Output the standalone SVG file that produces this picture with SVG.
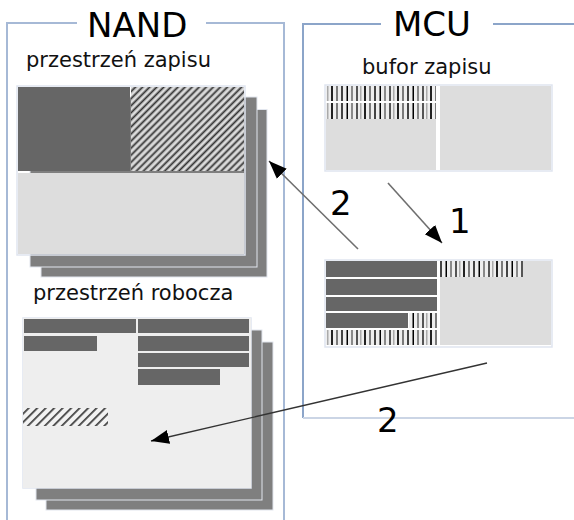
<svg xmlns="http://www.w3.org/2000/svg" width="574" height="520" viewBox="0 0 574 520">
  <style>
    .title { font-family: "DejaVu Sans", sans-serif; font-size: 34px; fill: #000; }
    .label { font-family: "DejaVu Sans", sans-serif; font-size: 21px; fill: #111; }
    .num { font-family: "DejaVu Sans", sans-serif; font-size: 34px; fill: #000; }
    .frame { fill: none; stroke: #a6b9d6; stroke-width: 2; }
    .frame-dark { fill: none; stroke: #8ca5c9; stroke-width: 2; }
    .frame-light { fill: none; stroke: #cbd5e5; stroke-width: 2; }
    .layer { fill: #7f7f7f; stroke: #e2e6ee; stroke-width: 1; }
    .dark { fill: #666666; }
    .light { fill: #dddddd; }
    .pale { fill: #eeeeee; }
    .edge { fill: none; stroke: #dfe5ef; stroke-width: 1.5; }
    .conn { fill: none; stroke: #6f6f6f; stroke-width: 1.6; }
    .conn-dark { fill: none; stroke: #333333; stroke-width: 1.4; }
  </style>
  <defs>
    <marker id="arrow" markerUnits="userSpaceOnUse" markerWidth="19" markerHeight="16" refX="18" refY="8" orient="auto">
      <path d="M0,1 L18,8 L0,15 z" fill="#000"/>
    </marker>
    <!-- diagonal hatch on grey -->
    <pattern id="hatch" patternUnits="userSpaceOnUse" width="5" height="5" patternTransform="rotate(45)">
      <rect width="5" height="5" fill="#dcdcdc"/>
      <rect x="1.5" width="1.8" height="5" fill="#333"/>
    </pattern>
    <pattern id="hatch-pale" patternUnits="userSpaceOnUse" width="6" height="6" patternTransform="rotate(45)">
      <rect width="6" height="6" fill="#f2f2f2"/>
      <rect x="2" width="1.7" height="6" fill="#3a3a3a"/>
    </pattern>
    <!-- data stripes -->
    <pattern id="bars" patternUnits="userSpaceOnUse" width="33" height="16">
      <rect width="33" height="16" fill="#eeeeee"/>
      <rect x="1" width="2" height="16" fill="#222"/>
      <rect x="6" width="2" height="16" fill="#7a7a7a"/>
      <rect x="11" width="2" height="16" fill="#444"/>
      <rect x="16.5" width="1.5" height="16" fill="#000"/>
      <rect x="21" width="2" height="16" fill="#8a8a8a"/>
      <rect x="26" width="2" height="16" fill="#555"/>
      <rect x="30" width="1.5" height="16" fill="#aaaaaa"/>
    </pattern>
  </defs>

  <!-- NAND frame -->
  <g id="nand">
    <path class="frame" d="M7,520 V23 H77 M206,23 H284 V520"/>
    <text class="title" x="87" y="37">NAND</text>
  </g>

  <!-- MCU frame -->
  <g id="mcu">
    <path class="frame-dark" d="M381,24 H303 V418 M493,24 H574"/>
    <path class="frame-light" d="M303,418 H574"/>
    <text class="title" x="393" y="36">MCU</text>
  </g>

  <!-- write space in NAND -->
  <g id="write-space">
    <text class="label" x="26" y="67">przestrzeń zapisu</text>
    <rect class="layer" x="41" y="109.5" width="226" height="167.5"/>
    <rect class="layer" x="30" y="97" width="227" height="170"/>
    <rect x="17" y="86" width="228" height="169" fill="#f4f6fa" class="edge"/>
    <rect class="dark" x="18" y="87" width="112" height="84"/>
    <rect x="131" y="87" width="113" height="84" fill="url(#hatch)"/>
    <rect class="light" x="18" y="173" width="226" height="81"/>
  </g>

  <!-- work space in NAND -->
  <g id="work-space">
    <text class="label" x="33" y="300">przestrzeń robocza</text>
    <rect class="layer" x="46" y="342" width="227" height="168"/>
    <rect class="layer" x="36" y="330" width="226" height="170"/>
    <rect class="pale edge" x="23" y="318" width="228" height="170"/>
    <rect class="pale" x="23" y="318" width="228" height="170"/>
    <rect class="dark" x="24" y="319" width="112" height="14"/>
    <rect class="dark" x="24" y="336" width="73" height="15"/>
    <rect class="dark" x="138" y="319" width="111" height="14"/>
    <rect class="dark" x="138" y="336" width="111" height="15"/>
    <rect class="dark" x="138" y="353" width="111" height="14"/>
    <rect class="dark" x="138" y="369" width="82" height="16"/>
    <rect x="23" y="408" width="85" height="18" fill="url(#hatch-pale)"/>
  </g>

  <!-- write buffer in MCU -->
  <g id="write-buffer">
    <text class="label" x="362" y="74">bufor zapisu</text>
    <rect x="325" y="85" width="227" height="86" fill="#f2f2f2" class="edge"/>
    <rect x="326" y="86" width="110" height="15" fill="url(#bars)"/>
    <rect x="326" y="103" width="110" height="16" fill="url(#bars)"/>
    <rect class="light" x="326" y="119" width="110" height="51"/>
    <rect class="light" x="440" y="86" width="111" height="84"/>
  </g>

  <!-- buffer after collecting data -->
  <g id="full-buffer">
    <rect x="325" y="260" width="227" height="87" fill="#f4f4f4" class="edge"/>
    <rect class="light" x="440" y="261" width="111" height="84"/>
    <rect class="dark" x="326" y="261" width="111" height="16"/>
    <rect x="440" y="261" width="83" height="16" fill="url(#bars)"/>
    <rect class="dark" x="326" y="279" width="111" height="16"/>
    <rect class="dark" x="326" y="297" width="111" height="14"/>
    <rect class="dark" x="326" y="313" width="82" height="15"/>
    <rect x="409" y="313" width="28" height="15" fill="url(#bars)"/>
    <rect x="326" y="330" width="111" height="15" fill="url(#bars)"/>
  </g>

  <!-- data flow -->
  <g id="connectors">
    <path class="conn" d="M388,183 L442,243" marker-end="url(#arrow)"/>
    <path class="conn" d="M358,249 L269,161" marker-end="url(#arrow)"/>
    <path class="conn-dark" d="M487,363 L151,441" marker-end="url(#arrow)"/>
    <text class="num" x="449" y="233">1</text>
    <text class="num" x="330" y="215">2</text>
    <text class="num" x="377" y="432">2</text>
  </g>
</svg>
